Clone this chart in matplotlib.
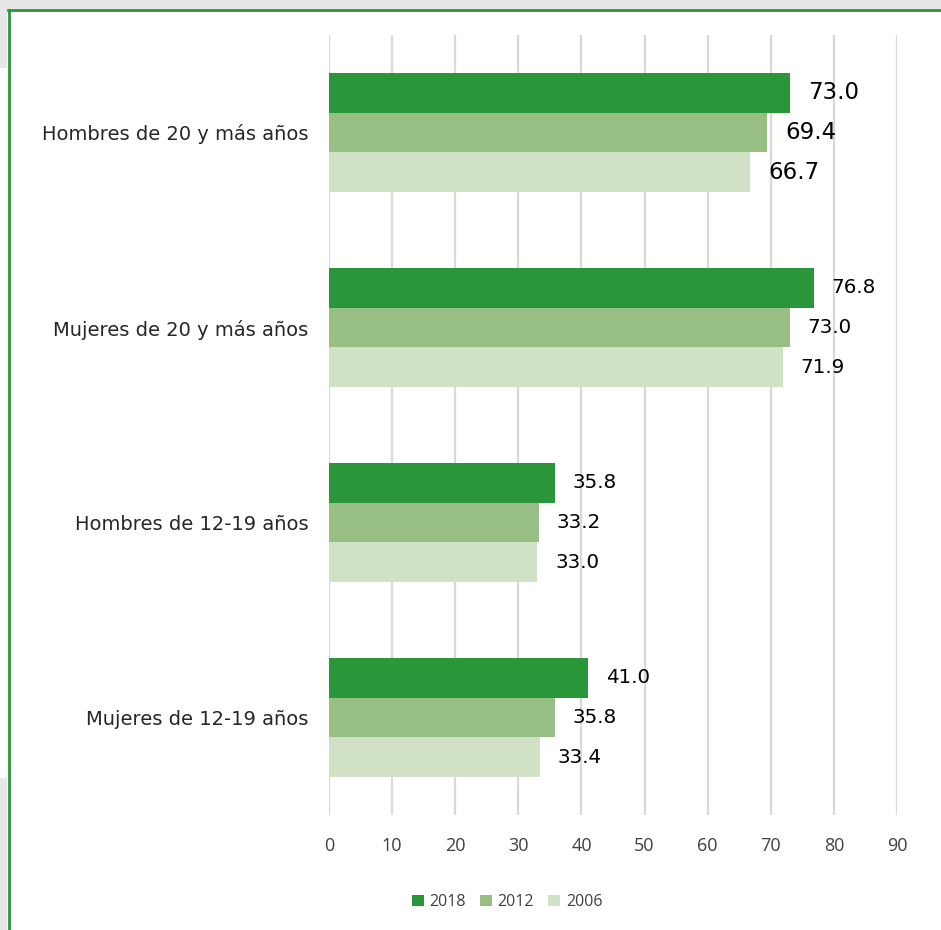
import numpy as np
import matplotlib.pyplot as plt
from matplotlib.patches import Rectangle
from matplotlib.lines import Line2D

categories = ["Hombres de 20 y más años", "Mujeres de 20 y más años",
              "Hombres de 12-19 años", "Mujeres de 12-19 años"]
years = ["2018", "2012", "2006"]
v2018 = [73.0, 76.8, 35.8, 41.0]
v2012 = [69.4, 73.0, 33.2, 35.8]
v2006 = [66.7, 71.9, 33.0, 33.4]
colors = ["#2a963a", "#97bf83", "#d0e1c6"]

fig = plt.figure(figsize=(9.41, 9.30), dpi=100)
fig.patch.set_facecolor("white")

# grey surroundings + green frame (the chart was cut from a report page)
fig.add_artist(Rectangle((0, 1 - 9/930), 1, 9/930, transform=fig.transFigure, color="#e7e7e7", lw=0))
fig.add_artist(Rectangle((0, 1 - 68/930), 7/941, 68/930, transform=fig.transFigure, color="#e7e7e7", lw=0))
fig.add_artist(Rectangle((0, 0), 7/941, 1 - 778/930, transform=fig.transFigure, color="#e7e7e7", lw=0))
fig.add_artist(Line2D([8.5/941, 8.5/941], [0, 1 - 10/930], transform=fig.transFigure, color="#2a963a", lw=2))
fig.add_artist(Line2D([8/941, 1], [1 - 10.5/930, 1 - 10.5/930], transform=fig.transFigure, color="#2a963a", lw=2))

ax = fig.add_axes([329/941, 1 - 815/930, (897 - 329)/941, (815 - 35)/930])

y = np.arange(len(categories))
h = 0.205
series = [v2018, v2012, v2006]
for i, (vals, col, yr) in enumerate(zip(series, colors, years)):
    bars = ax.barh(y + (i - 1) * h, vals, height=h, color=col, label=yr, zorder=2)
    labs = ax.bar_label(bars, labels=[f"{v:.1f}" for v in vals], padding=13,
                        fontsize=14.3, color="black", family="DejaVu Sans")
    labs[0].set_fontsize(16.5)

ax.set_xlim(0, 90)
ax.set_ylim(len(categories) - 0.5, -0.5)
ax.set_xticks(range(0, 91, 10))
ax.set_yticks(y)
ax.set_yticklabels(categories, fontsize=14, family="DejaVu Sans", color="#262626")
ax.tick_params(axis="y", length=0, pad=15)
ax.tick_params(axis="x", length=0, pad=16, labelsize=13, labelcolor="#404040")
for t in ax.get_xticklabels():
    t.set_family("Open Sans")
ax.grid(axis="x", color="#d9d9d9", lw=1.6, zorder=0)
ax.set_axisbelow(True)
for s in ax.spines.values():
    s.set_visible(False)

leg = ax.legend(loc="center", bbox_to_anchor=(507/941, 1 - 902/930), bbox_transform=fig.transFigure,
                ncol=3, frameon=False, handlelength=0.75, handleheight=0.75,
                handletextpad=0.35, columnspacing=0.9, labelcolor="#404040",
                prop={"family": "Open Sans", "size": 11.5})

fig.savefig("out.png", dpi=100)
